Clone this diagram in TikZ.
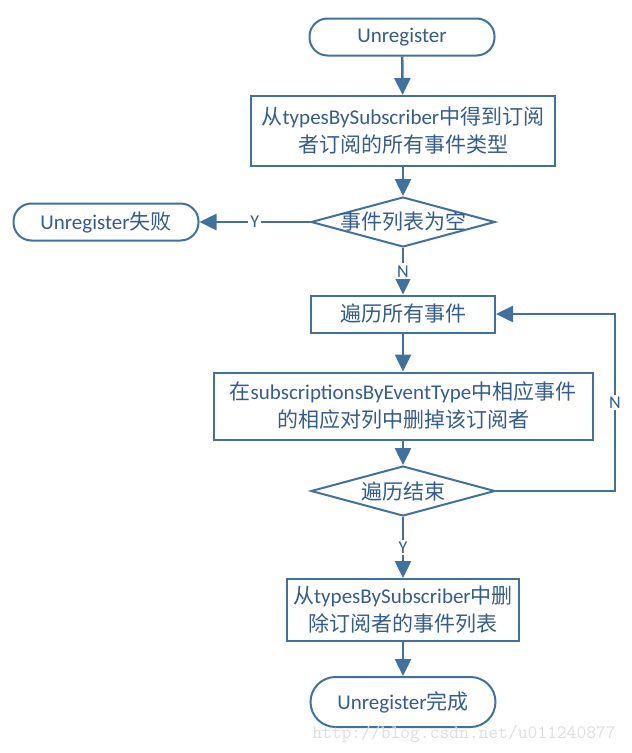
\documentclass[tikz,border=0pt]{standalone}
\usepackage{fontspec}
\setmainfont{Carlito}
\newfontfamily\cjk{Noto Sans CJK SC}
\usetikzlibrary{arrows.meta,shapes.geometric}
\definecolor{flowline}{RGB}{65,113,156}
\definecolor{flowtext}{RGB}{52,92,140}

\begin{document}
\begin{tikzpicture}[x=1pt, y=-1pt,
    every node/.style={text=flowtext, font=\fontsize{21}{28}\selectfont},
    terminal/.style={draw=flowline, line width=2pt, rounded corners=18pt, minimum width=185pt, minimum height=37pt, inner sep=0pt},
    process/.style={draw=flowline, line width=2pt, align=center, inner sep=0pt},
    decision/.style={draw=flowline, line width=2pt, diamond, aspect=1, inner sep=0pt, minimum width=184pt, minimum height=50pt},
    arr/.style={draw=flowline, line width=2.5pt, -{Triangle[length=17pt,width=16pt]}},
    lbl/.style={fill=white, inner sep=2pt, font=\fontsize{18}{18}\selectfont}]
    \useasboundingbox (0,0) rectangle (632,753);

    \node[terminal] (start) at (402,37) {Unregister};
    \node[process, minimum width=304pt, minimum height=70pt] (fetch) at (403,131) {{\cjk 从}typesBySubscriber{\cjk 中得到订阅}\\{\cjk 者订阅的所有事件类型}};
    \node[decision] (empty) at (403,222) {\makebox[0pt]{\cjk 事件列表为空}};
    \node[terminal] (fail) at (106,222) {Unregister{\cjk 失败}};
    \node[process, minimum width=184pt, minimum height=37pt] (loop) at (403,314) {\cjk 遍历所有事件};
    \node[process, minimum width=379pt, minimum height=67pt] (remove) at (403,406) {{\cjk 在}subscriptionsByEventType{\cjk 中相应事件}\\{\cjk 的相应对列中删掉该订阅者}};
    \node[decision] (done) at (403,491) {\makebox[0pt]{\cjk 遍历结束}};
    \node[process, minimum width=232pt, minimum height=62pt] (clear) at (403,610) {{\cjk 从}typesBySubscriber{\cjk 中删}\\{\cjk 除订阅者的事件列表}};
    \node[terminal, minimum height=50pt, rounded corners=25pt] (finish) at (403,702) {Unregister{\cjk 完成}};
    \node[text=black!13, font=\ttfamily\fontsize{19}{19}\selectfont] (mark) at (464,734) {http://blog.csdn.net/u011240877};
    \coordinate (back) at (615,314);

    \foreach \source/\dest in {start/fetch, fetch/empty, loop/remove, remove/done, clear/finish}
      \draw[arr] (\source) -- (\dest);
    \foreach \source/\dest/\label in {empty/fail/Y, empty/loop/N, done/clear/Y}
      \draw[arr] (\source) -- node[lbl] {\label} (\dest);
    \draw[arr] (done.east) -| node[lbl, pos=0.75] {N} (back) -- (loop.east);
\end{tikzpicture}
\end{document}
